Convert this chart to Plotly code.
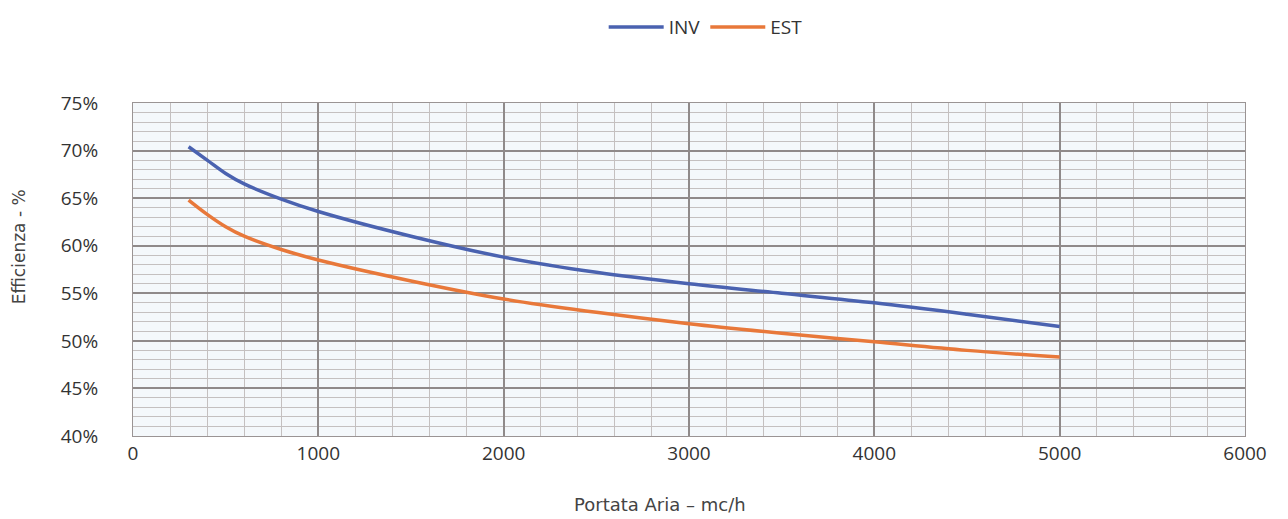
import plotly.graph_objects as go

flow = [300, 400, 500, 600, 800, 1000, 1500, 2000, 2500, 3000, 3500, 4000, 4500, 5000]
inv = [70.4, 69.0, 67.6, 66.5, 64.9, 63.6, 61.0, 58.8, 57.2, 56.0, 55.0, 54.0, 52.8, 51.5]
est = [64.8, 63.3, 62.0, 61.0, 59.6, 58.5, 56.3, 54.4, 53.0, 51.8, 50.8, 49.9, 49.0, 48.3]

x_ticks = [0, 1000, 2000, 3000, 4000, 5000, 6000]
y_ticks = [40, 45, 50, 55, 60, 65, 70, 75]
y_labels = [f"{v}%" for v in y_ticks]

fig = go.Figure()
fig.add_trace(go.Scatter(x=flow, y=inv, name="INV", mode="lines",
                         line=dict(color="#4a62b0", width=3.5, shape="spline", smoothing=1.0)))
fig.add_trace(go.Scatter(x=flow, y=est, name="EST", mode="lines",
                         line=dict(color="#e8783a", width=3.5, shape="spline", smoothing=1.0)))

fig.update_layout(
    width=1288, height=519,
    margin=dict(l=125, r=51, t=95, b=91, autoexpand=False),
    paper_bgcolor="white",
    plot_bgcolor="#f4f8fb",
    font=dict(family="Open Sans, Lato, sans-serif", color="#333"),
    showlegend=True,
    legend=dict(orientation="h", x=0.515, xanchor="center", y=1.228, yanchor="middle",
                font=dict(size=19, color="#333"), itemwidth=55),
    xaxis=dict(range=[0, 6000], tickvals=x_ticks, ticks="", tickfont=dict(size=19, color="#333"),
               showgrid=True, gridcolor="#8f8a8a", gridwidth=1.5, automargin=False,
               minor=dict(dtick=200, showgrid=True, gridcolor="#c4c0c0", gridwidth=1),
               showline=True, linecolor="#9a9494", mirror=True, zeroline=False),
    yaxis=dict(range=[40, 75], tickvals=y_ticks, ticktext=y_labels, ticks="", tickfont=dict(size=19, color="#333"),
               showgrid=True, gridcolor="#8f8a8a", gridwidth=1.5, automargin=False, ticklabelstandoff=30,
               minor=dict(dtick=1, showgrid=True, gridcolor="#c4c0c0", gridwidth=1),
               showline=True, linecolor="#9a9494", mirror=True, zeroline=False),
    annotations=[
        dict(text="Portata Aria – mc/h", xref="paper", yref="paper", x=0.474, y=-0.207,
             xanchor="center", yanchor="middle", showarrow=False,
             font=dict(family="DejaVu Sans, sans-serif", size=18, color="#444")),
        dict(text="Efficienza - %", xref="paper", yref="paper", x=-0.103, y=0.568,
             xanchor="center", yanchor="middle", showarrow=False, textangle=-90,
             font=dict(family="DejaVu Sans, sans-serif", size=17, color="#444")),
    ],
)

fig.write_html("out.html")
